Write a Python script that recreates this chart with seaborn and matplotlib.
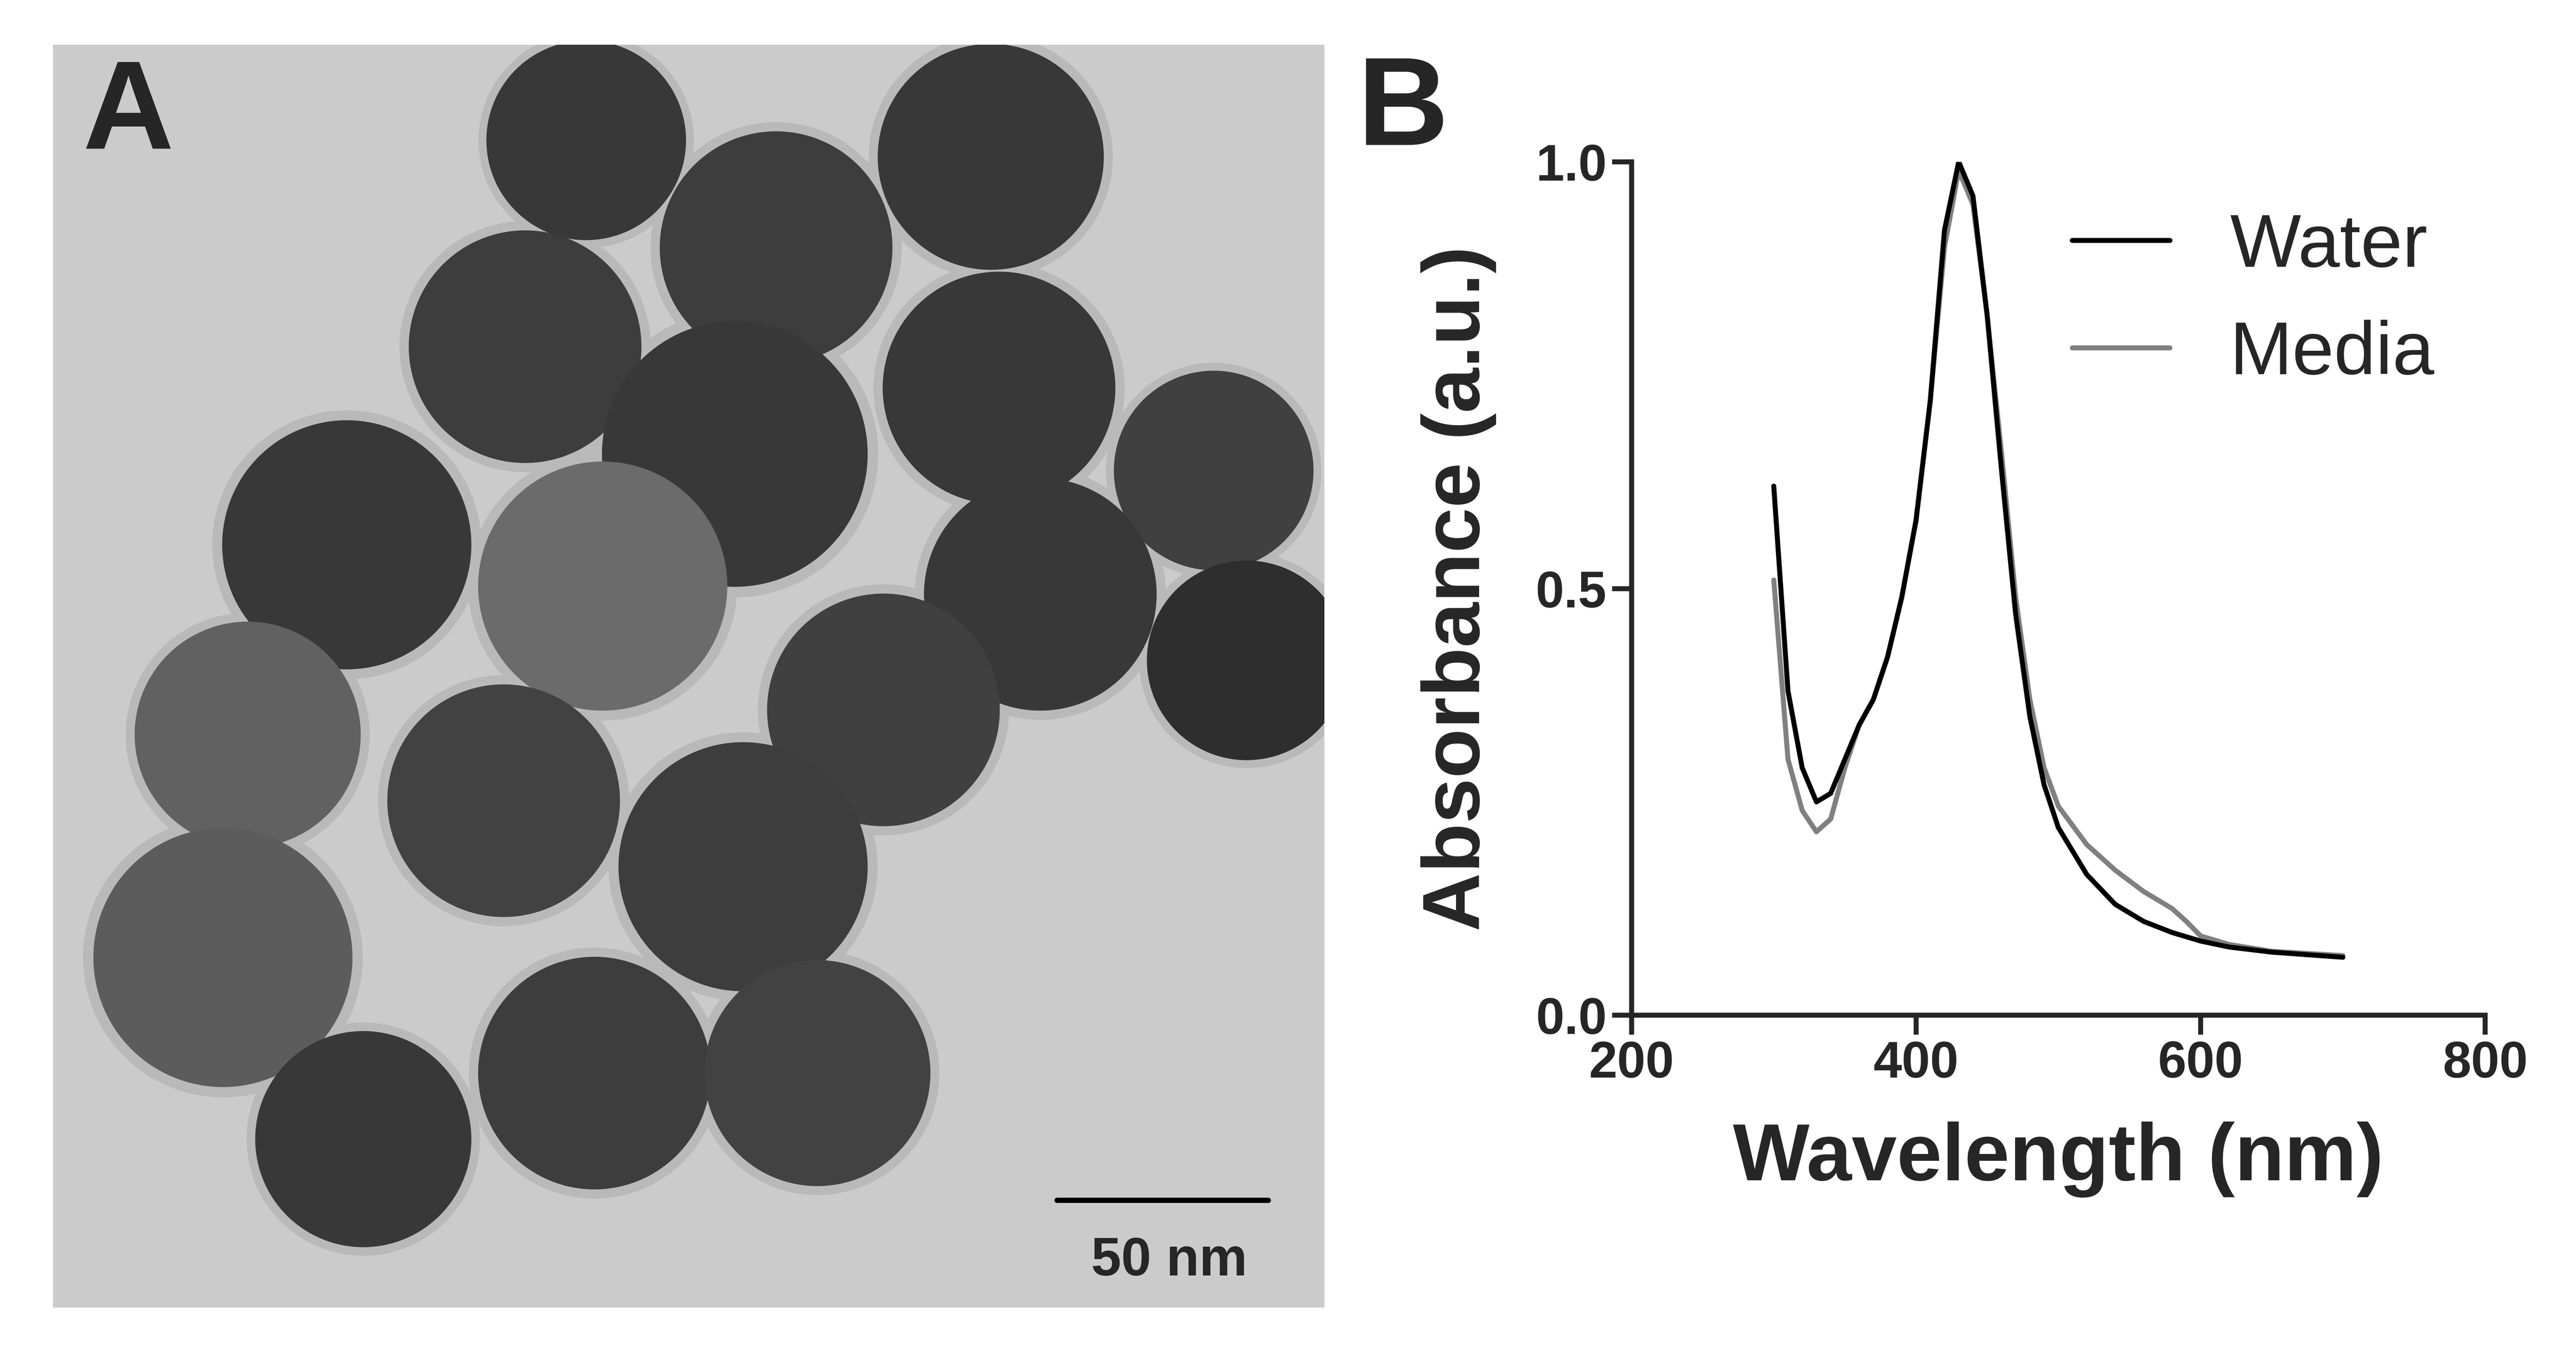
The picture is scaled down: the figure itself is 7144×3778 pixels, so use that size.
import numpy as np
import pandas as pd
import matplotlib
matplotlib.use("Agg")
import matplotlib.pyplot as plt
from matplotlib.patches import Circle
import seaborn as sns

# Spectrum data
wl = [300, 310, 320, 330, 340, 350, 360, 370, 380, 390, 400, 410, 420, 430,
      440, 450, 460, 470, 480, 490, 500, 520, 540, 560, 580, 590, 600, 620, 650, 700]
water = [0.62, 0.38, 0.29, 0.25, 0.26, 0.30, 0.34, 0.37, 0.42, 0.49, 0.58, 0.72, 0.92, 1.00,
         0.96, 0.82, 0.64, 0.47, 0.35, 0.27, 0.22, 0.165, 0.13, 0.11, 0.097, 0.092, 0.087, 0.080, 0.074, 0.068]
media = [0.51, 0.30, 0.24, 0.215, 0.23, 0.29, 0.34, 0.37, 0.42, 0.49, 0.58, 0.72, 0.90, 0.99,
         0.95, 0.82, 0.66, 0.49, 0.37, 0.29, 0.245, 0.20, 0.17, 0.145, 0.125, 0.11, 0.093, 0.083, 0.075, 0.070]

# Panel A: approximate particle positions (image pixel coords), radii and grey level
px = [355, 600, 470, 318, 605, 445, 735, 210, 365, 630, 150, 535, 755, 305, 450, 135, 360, 495, 220]
py = [85, 95, 150, 210, 235, 275, 285, 330, 355, 360, 445, 430, 400, 485, 525, 580, 650, 650, 690]
pr = [60, 68, 70, 70, 70, 80, 60, 75, 75, 70, 68, 70, 60, 70, 75, 78, 70, 68, 65]
shade = [0.22, 0.22, 0.24, 0.24, 0.22, 0.22, 0.25, 0.22, 0.42, 0.22, 0.38, 0.25, 0.18, 0.26, 0.24, 0.36, 0.24, 0.26, 0.22]

sns.set_style("ticks")
plt.rcParams["font.family"] = ["Liberation Sans", "DejaVu Sans"]

fig = plt.figure(figsize=(7144 / 300, 3778 / 300), dpi=300)

# Panel A
axA = fig.add_axes([32 / 1560, 33 / 825, 770 / 1560, 765 / 825])
axA.set_facecolor("#cbcbcb")
for x, y, r, s in zip(px, py, pr, shade):
    axA.add_patch(Circle((x, y), r * 1.08, color="#b9b9b9", zorder=1))
for x, y, r, s in zip(px, py, pr, shade):
    axA.add_patch(Circle((x, y), r, color=str(s), zorder=2))
axA.set_xlim(32, 802)
axA.set_ylim(792, 27)
axA.set_xticks([])
axA.set_yticks([])
for sp in axA.spines.values():
    sp.set_visible(False)
axA.plot([640, 768], [727, 727], color="black", lw=3.5, zorder=3)
axA.text(708, 764, "50 nm", ha="center", va="center", fontsize=36, fontweight="bold", zorder=3)

# Panel B
axB = fig.add_axes([988 / 1560, 210 / 825, 517 / 1560, 517 / 825])
df = pd.DataFrame({"Wavelength": wl * 2, "Absorbance": media + water,
                   "Solvent": ["Media"] * len(wl) + ["Water"] * len(wl)})
sns.lineplot(data=df, x="Wavelength", y="Absorbance", hue="Solvent",
             hue_order=["Media", "Water"],
             palette={"Water": "black", "Media": "#808080"}, lw=3.3, ax=axB)
axB.set_xlim(200, 800)
axB.set_ylim(0, 1.0)
axB.set_xticks([200, 400, 600, 800])
axB.set_yticks([0.0, 0.5, 1.0])
axB.set_yticklabels(["0.0", "0.5", "1.0"])
axB.tick_params(width=3.3, length=13, labelsize=34)
for lab in axB.get_xticklabels() + axB.get_yticklabels():
    lab.set_fontweight("bold")
for sp in ["left", "bottom"]:
    axB.spines[sp].set_linewidth(3.3)
sns.despine(ax=axB)
axB.set_xlabel("Wavelength (nm)", fontsize=54, fontweight="bold", labelpad=22)
axB.set_ylabel("Absorbance (a.u.)", fontsize=54, fontweight="bold", labelpad=26)
handles, labels = axB.get_legend_handles_labels()
order = [labels.index("Water"), labels.index("Media")]
leg = axB.legend([handles[i] for i in order], [labels[i] for i in order],
                 title=None, frameon=False, fontsize=50, loc="upper right",
                 handlelength=1.3, bbox_to_anchor=(1.02, 1.02))
for line in leg.get_lines():
    line.set_linewidth(3.3)

fig.text(50 / 1560, 1 - 70 / 825, "A", fontsize=84, fontweight="bold", va="center")
fig.text(822 / 1560, 1 - 68 / 825, "B", fontsize=84, fontweight="bold", va="center")

fig.savefig("out.png", dpi=300, facecolor="white")
